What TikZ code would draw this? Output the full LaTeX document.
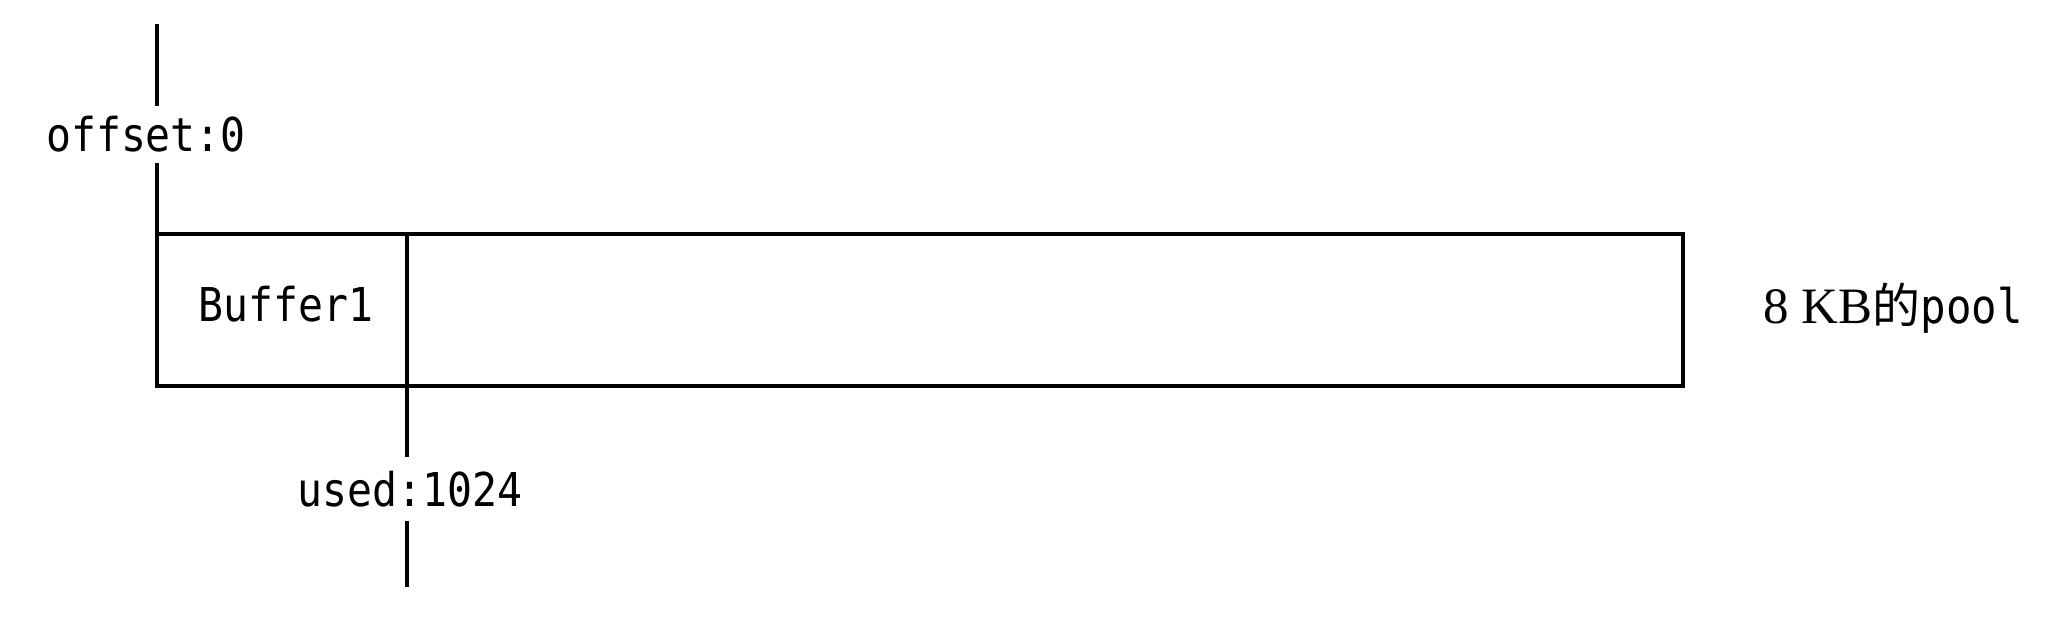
\documentclass[tikz,border=0pt]{standalone}
\usepackage{fontspec}
\newfontfamily\monof[FakeStretch=0.89]{DejaVu Sans Mono}
\newfontfamily\serf{Liberation Serif}
\newfontfamily\cjk{Noto Sans CJK SC}
\begin{document}
\begin{tikzpicture}[x=0.5pt,y=-0.5pt,
  line width=1.6pt,
  cell/.style={draw, rectangle, inner sep=0pt, outer sep=0pt, minimum height=76pt, anchor=north west},
  mlabel/.style={inner sep=0pt, anchor=base, font=\monof\fontsize{23.3pt}{26pt}\selectfont}]
\useasboundingbox (0,0) rectangle (2072,624);
\node[cell, minimum width=125pt] (buf) at (157,234) {};
\node[cell, minimum width=638pt] (rest) at (407,234) {};
\node[mlabel] (buftext) at (286,322) {Buffer1};
\node[mlabel] (offtext) at (146,152) {offset:0};
\node[mlabel] (usedtext) at (410,507) {used:1024};
\node[inner sep=0pt, anchor=base west] (pooltext) at (1762,324)
  {\serf\fontsize{25.5pt}{28pt}\selectfont 8 KB{\cjk\fontsize{24pt}{26pt}\selectfont 的}{\monof\fontsize{23.8pt}{26pt}\selectfont pool}};
\coordinate (otop) at (157,24);
\coordinate (omid1) at (157,106);
\coordinate (omid2) at (157,163);
\coordinate (umid1) at (407,457);
\coordinate (umid2) at (407,521);
\coordinate (ubot) at (407,587);
\draw (otop) -- (omid1);
\draw (omid2) -- (buf.north west);
\draw (buf.south east) -- (umid1);
\draw (umid2) -- (ubot);
\end{tikzpicture}
\end{document}
